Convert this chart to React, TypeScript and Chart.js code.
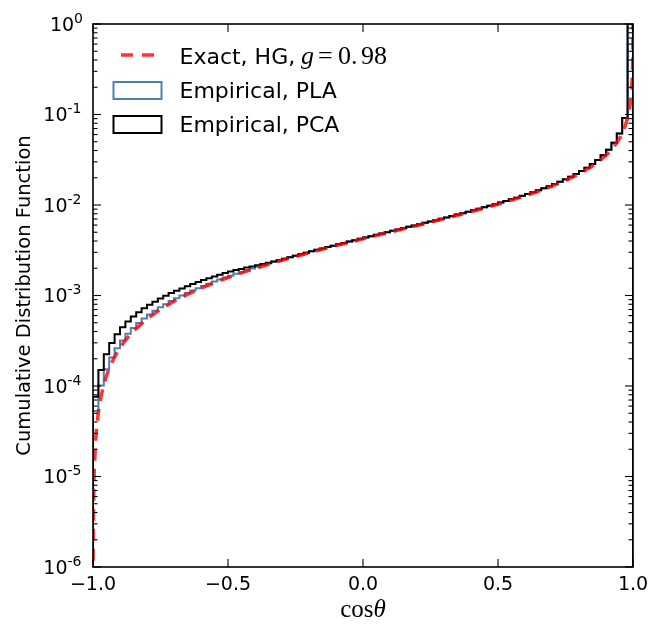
import React, { useEffect, useRef } from 'react';
import { Chart, registerables } from 'chart.js';
import type { ChartOptions } from 'chart.js';

Chart.register(...registerables);

// histogram bin edges (100 bins in cos theta)
const binEdges = [
  -1.0, -0.98, -0.96, -0.94, -0.92, -0.9, -0.88, -0.86, -0.84, -0.82,
  -0.8, -0.78, -0.76, -0.74, -0.72, -0.7, -0.68, -0.66, -0.64, -0.62,
  -0.6, -0.58, -0.56, -0.54, -0.52, -0.5, -0.48, -0.46, -0.44, -0.42,
  -0.4, -0.38, -0.36, -0.34, -0.32, -0.3, -0.28, -0.26, -0.24, -0.22,
  -0.2, -0.18, -0.16, -0.14, -0.12, -0.1, -0.08, -0.06, -0.04, -0.02,
  0.0, 0.02, 0.04, 0.06, 0.08, 0.1, 0.12, 0.14, 0.16, 0.18,
  0.2, 0.22, 0.24, 0.26, 0.28, 0.3, 0.32, 0.34, 0.36, 0.38,
  0.4, 0.42, 0.44, 0.46, 0.48, 0.5, 0.52, 0.54, 0.56, 0.58,
  0.6, 0.62, 0.64, 0.66, 0.68, 0.7, 0.72, 0.74, 0.76, 0.78,
  0.8, 0.82, 0.84, 0.86, 0.88, 0.9, 0.92, 0.94, 0.96, 0.98,
  1.0,
];

// cumulative histogram, PLA sampling
const cdfPLA = [
  5.3e-5, 1.01e-4, 1.53e-4, 2.07e-4, 2.62e-4, 3.19e-4, 3.78e-4, 4.37e-4, 4.96e-4, 5.56e-4,
  6.16e-4, 6.78e-4, 7.4e-4, 8.02e-4, 8.67e-4, 9.32e-4, 9.98e-4, 1.066e-3, 1.135e-3, 1.205e-3,
  1.277e-3, 1.35e-3, 1.424e-3, 1.5e-3, 1.578e-3, 1.657e-3, 1.738e-3, 1.821e-3, 1.905e-3, 1.991e-3,
  2.08e-3, 2.17e-3, 2.262e-3, 2.356e-3, 2.452e-3, 2.551e-3, 2.652e-3, 2.755e-3, 2.861e-3, 2.969e-3,
  3.081e-3, 3.195e-3, 3.312e-3, 3.432e-3, 3.555e-3, 3.682e-3, 3.812e-3, 3.946e-3, 4.085e-3, 4.227e-3,
  4.373e-3, 4.524e-3, 4.68e-3, 4.841e-3, 5.007e-3, 5.179e-3, 5.357e-3, 5.541e-3, 5.732e-3, 5.93e-3,
  6.136e-3, 6.349e-3, 6.571e-3, 6.803e-3, 7.044e-3, 7.296e-3, 7.559e-3, 7.834e-3, 8.123e-3, 8.426e-3,
  8.745e-3, 9.08e-3, 9.434e-3, 9.808e-3, 1.0204e-2, 1.0625e-2, 1.1073e-2, 1.1551e-2, 1.2063e-2, 1.2613e-2,
  1.3206e-2, 1.3847e-2, 1.4545e-2, 1.5306e-2, 1.6143e-2, 1.7068e-2, 1.8097e-2, 1.9253e-2, 2.0563e-2, 2.205e-2,
  2.3791e-2, 2.5851e-2, 2.8337e-2, 3.142e-2, 3.5385e-2, 4.0753e-2, 4.8611e-2, 6.1768e-2, 9.1322e-2, 1.0,
];

// cumulative histogram, PCA sampling
const cdfPCA = [
  7.61e-5, 1.5e-4, 2.24e-4, 2.99e-4, 3.74e-4, 4.46e-4, 5.17e-4, 5.86e-4, 6.55e-4, 7.23e-4,
  7.9e-4, 8.55e-4, 9.27e-4, 9.91e-4, 1.063e-3, 1.125e-3, 1.196e-3, 1.267e-3, 1.338e-3, 1.409e-3,
  1.481e-3, 1.552e-3, 1.624e-3, 1.696e-3, 1.768e-3, 1.84e-3, 1.913e-3, 1.967e-3, 2.039e-3, 2.092e-3,
  2.163e-3, 2.235e-3, 2.307e-3, 2.38e-3, 2.455e-3, 2.553e-3, 2.654e-3, 2.757e-3, 2.862e-3, 2.971e-3,
  3.082e-3, 3.196e-3, 3.313e-3, 3.433e-3, 3.556e-3, 3.683e-3, 3.813e-3, 3.947e-3, 4.086e-3, 4.228e-3,
  4.374e-3, 4.525e-3, 4.681e-3, 4.842e-3, 5.008e-3, 5.18e-3, 5.358e-3, 5.542e-3, 5.733e-3, 5.931e-3,
  6.137e-3, 6.35e-3, 6.572e-3, 6.804e-3, 7.045e-3, 7.297e-3, 7.56e-3, 7.835e-3, 8.124e-3, 8.427e-3,
  8.746e-3, 9.081e-3, 9.435e-3, 9.809e-3, 1.0205e-2, 1.0626e-2, 1.1074e-2, 1.1552e-2, 1.2064e-2, 1.2614e-2,
  1.3207e-2, 1.3848e-2, 1.4546e-2, 1.5307e-2, 1.6144e-2, 1.7069e-2, 1.8098e-2, 1.9254e-2, 2.0564e-2, 2.2051e-2,
  2.3792e-2, 2.5852e-2, 2.8338e-2, 3.1421e-2, 3.5386e-2, 4.0754e-2, 4.8612e-2, 6.1769e-2, 9.1323e-2, 1.0,
];

// exact Henyey-Greenstein CDF, g = 0.98
const exactCos = [
  -0.9999, -0.9995, -0.999, -0.997, -0.995, -0.99, -0.985, -0.98, -0.97, -0.96,
  -0.95, -0.94, -0.92, -0.9, -0.88, -0.85, -0.8, -0.75, -0.7, -0.65,
  -0.6, -0.55, -0.5, -0.45, -0.4, -0.3, -0.2, -0.1, 0.0, 0.1,
  0.2, 0.3, 0.4, 0.5, 0.6, 0.65, 0.7, 0.75, 0.8, 0.85,
  0.88, 0.9, 0.92, 0.94, 0.95, 0.96, 0.97, 0.98, 0.985, 0.99,
  0.995, 0.998, 0.999, 0.9995, 0.9998, 1.0,
];
const exactCdf = [
  2.55e-7, 1.275e-6, 2.55e-6, 7.66e-6, 1.278e-5, 2.56e-5, 3.85e-5, 5.14e-5, 7.74e-5, 1.036e-4,
  1.299e-4, 1.565e-4, 2.104e-4, 2.65e-4, 3.206e-4, 4.056e-4, 5.519e-4, 7.044e-4, 8.637e-4, 1.03e-3,
  1.204e-3, 1.387e-3, 1.578e-3, 1.78e-3, 1.992e-3, 2.452e-3, 2.969e-3, 3.555e-3, 4.226e-3, 5.006e-3,
  5.929e-3, 7.042e-3, 8.424e-3, 1.0201e-2, 1.2608e-2, 1.4182e-2, 1.6135e-2, 1.8646e-2, 2.2048e-2, 2.7031e-2,
  3.142e-2, 3.5385e-2, 4.0753e-2, 4.8611e-2, 5.4203e-2, 6.1768e-2, 7.2832e-2, 9.1322e-2, 0.10683, 0.13266,
  0.18984, 0.29719, 0.40569, 0.53369, 0.7077, 1.0,
];

// axis ticks
const xTickValues = [-1, -0.5, 0, 0.5, 1];
const xTickLabels = ['\u22121.0', '\u22120.5', '0.0', '0.5', '1.0'];
const yTickExponents = [0, -1, -2, -3, -4, -5, -6];

const SANS = '"DejaVu Sans", sans-serif';
const SERIF = '"Liberation Serif", "DejaVu Serif", serif';
const RED = 'rgba(255, 0, 0, 0.8)';
const BLUE = '#4682b4';
const FLOOR = 1e-9; // closes the step outline below the axis

// histogram outline: (edge, value) corners for each bin
const stepOutline = (vals: number[]) => {
  const pts = [{ x: binEdges[0], y: FLOOR }];
  vals.forEach((v, i) => {
    pts.push({ x: binEdges[i], y: v });
    pts.push({ x: binEdges[i + 1], y: v });
  });
  pts.push({ x: binEdges[binEdges.length - 1], y: FLOOR });
  return pts;
};

const axesPlugin = {
  id: 'mplAxes',
  afterDraw(chart: Chart) {
    const { ctx, chartArea: a } = chart;
    const xs = chart.scales.x;
    const ys = chart.scales.y;
    ctx.save();

    // frame
    ctx.strokeStyle = '#000';
    ctx.lineWidth = 1.6;
    ctx.strokeRect(a.left, a.top, a.right - a.left, a.bottom - a.top);

    // inward ticks
    const seg = (x1: number, y1: number, x2: number, y2: number) => {
      ctx.beginPath();
      ctx.moveTo(x1, y1);
      ctx.lineTo(x2, y2);
      ctx.stroke();
    };
    ctx.lineWidth = 1.1;
    xTickValues.forEach((v) => {
      const px = xs.getPixelForValue(v);
      seg(px, a.bottom, px, a.bottom - 8);
      seg(px, a.top, px, a.top + 8);
    });
    yTickExponents.forEach((e) => {
      const py = ys.getPixelForValue(10 ** e);
      seg(a.left, py, a.left + 8, py);
      seg(a.right, py, a.right - 8, py);
      if (e > -6) {
        for (let m = 2; m <= 9; m++) {
          const pm = ys.getPixelForValue(m * 10 ** (e - 1));
          seg(a.left, pm, a.left + 4.5, pm);
          seg(a.right, pm, a.right - 4.5, pm);
        }
      }
    });

    ctx.fillStyle = '#000';
    ctx.textBaseline = 'alphabetic';

    // x tick labels
    ctx.font = `19px ${SANS}`;
    ctx.textAlign = 'center';
    xTickValues.forEach((v, i) => {
      ctx.fillText(xTickLabels[i], xs.getPixelForValue(v), a.bottom + 22.5);
    });

    // y tick labels 10^e
    ctx.textAlign = 'left';
    yTickExponents.forEach((e) => {
      const py = ys.getPixelForValue(10 ** e);
      const sup = String(e);
      ctx.font = `14px ${SANS}`;
      const ws = ctx.measureText(sup).width + (e < 0 ? 1.5 : 0);
      ctx.font = `19px ${SANS}`;
      const wb = ctx.measureText('10').width;
      const right = a.left - 10;
      ctx.fillText('10', right - ws - wb, py + 6.8);
      ctx.font = `14px ${SANS}`;
      ctx.fillText(sup, right - ws, py - 1.5);
    });

    // y axis title
    ctx.save();
    ctx.translate(30, (a.top + a.bottom) / 2);
    ctx.rotate(-Math.PI / 2);
    ctx.textAlign = 'center';
    ctx.font = `19.5px ${SANS}`;
    ctx.fillText('Cumulative Distribution Function', 0, 0);
    ctx.restore();

    // x axis title: cos theta
    ctx.textAlign = 'left';
    ctx.font = `25px ${SERIF}`;
    const wc = ctx.measureText('cos').width;
    ctx.font = `italic 25px ${SERIF}`;
    const wt = ctx.measureText('\u03b8').width;
    const cx0 = (a.left + a.right) / 2 - (wc + wt) / 2;
    ctx.font = `25px ${SERIF}`;
    ctx.fillText('cos', cx0, 617);
    ctx.font = `italic 25px ${SERIF}`;
    ctx.fillText('\u03b8', cx0 + wc, 617);

    // legend
    ctx.lineWidth = 3.5;
    ctx.strokeStyle = RED;
    ctx.setLineDash([12, 9]);
    seg(121, 55, 154, 55);
    ctx.setLineDash([]);
    ctx.lineWidth = 2;
    ctx.strokeStyle = BLUE;
    ctx.strokeRect(113.5, 82, 48, 17);
    ctx.strokeStyle = '#000';
    ctx.strokeRect(113.5, 116, 48, 17);

    ctx.font = `22px ${SANS}`;
    ctx.fillText('Exact, HG,', 179.5, 63.5);
    ctx.fillText('Empirical, PLA', 179.5, 98);
    ctx.fillText('Empirical, PCA', 179.5, 132);
    ctx.font = `italic 26px ${SERIF}`;
    ctx.fillText('g', 301, 63.5);
    ctx.font = `26px ${SERIF}`;
    ctx.fillText('=', 318, 63.5);
    ctx.fillText('0.', 338, 63.5);
    ctx.fillText('98', 361, 63.5);

    ctx.restore();
  },
};

const App: React.FC = () => {
  const canvasRef = useRef<HTMLCanvasElement>(null);
  const chartRef = useRef<Chart | null>(null);

  useEffect(() => {
    if (!canvasRef.current) return;
    if (chartRef.current) chartRef.current.destroy();

    const options: ChartOptions<'line'> = {
      responsive: true,
      maintainAspectRatio: false,
      animation: false,
      events: [],
      layout: { padding: { left: 93, right: 31, top: 24, bottom: 76 } },
      plugins: { legend: { display: false }, tooltip: { enabled: false } },
      elements: { point: { radius: 0 } },
      scales: {
        x: { type: 'linear', min: -1, max: 1, display: false },
        y: { type: 'logarithmic', min: 1e-6, max: 1, display: false },
      },
    };

    chartRef.current = new Chart(canvasRef.current, {
      type: 'line',
      data: {
        datasets: [
          {
            label: 'Exact, HG, g = 0.98',
            data: exactCos.map((x, i) => ({ x, y: exactCdf[i] })),
            borderColor: RED,
            borderWidth: 3.5,
            borderDash: [12, 8],
            tension: 0,
            fill: false,
          },
          {
            label: 'Empirical, PCA',
            data: stepOutline(cdfPCA),
            borderColor: '#000',
            borderWidth: 2,
            borderJoinStyle: 'miter',
            tension: 0,
            fill: false,
          },
          {
            label: 'Empirical, PLA',
            data: stepOutline(cdfPLA),
            borderColor: BLUE,
            borderWidth: 2,
            borderJoinStyle: 'miter',
            tension: 0,
            fill: false,
          },
        ],
      },
      options,
      plugins: [axesPlugin],
    });

    return () => {
      if (chartRef.current) {
        chartRef.current.destroy();
        chartRef.current = null;
      }
    };
  }, []);

  return (
    <div style={{ position: 'fixed', left: 0, top: 0, width: 664, height: 643, background: '#fff' }}>
      <canvas ref={canvasRef}></canvas>
    </div>
  );
};

export default App;
